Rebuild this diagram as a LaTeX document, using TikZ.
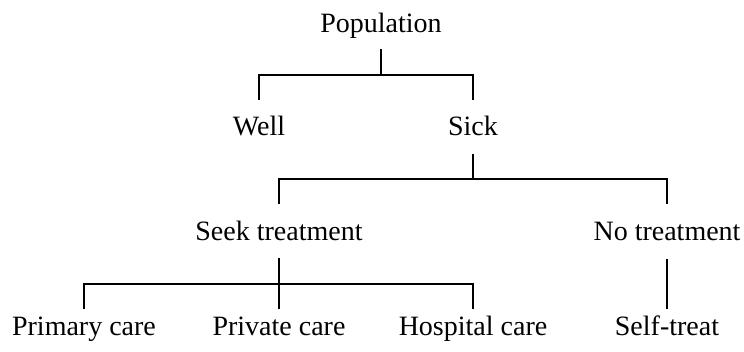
\documentclass[tikz,border=0pt]{standalone}
\usepackage{fontspec}
\setmainfont{Liberation Serif}
\begin{document}
\begin{tikzpicture}[x=1pt,y=-1pt,
  lbl/.style={anchor=base,inner sep=0pt,font=\fontsize{28}{34}\selectfont},
  conn/.style={line width=1.8pt,line cap=butt,line join=miter}]
\useasboundingbox (0,0) rectangle (744,351);
% nodes
\node[lbl] (pop)  at (381,32)  {Population};
\node[lbl] (well) at (259,135) {Well};
\node[lbl] (sick) at (473,135) {Sick};
\node[lbl] (seek) at (279,240) {Seek treatment};
\node[lbl] (notr) at (667,240) {No treatment};
\node[lbl] (prim) at (84,335)  {Primary care};
\node[lbl] (priv) at (279,335) {Private care};
\node[lbl] (hosp) at (473,335) {Hospital care};
\node[lbl] (self) at (667,335) {Self-treat};
% connectors
\draw[conn] (pop.base |- 0,49) -- (pop.base |- 0,75);
\draw[conn] (well.base |- 0,100) -- (well.base |- 0,75) -- (sick.base |- 0,75) -- (sick.base |- 0,100);
\draw[conn] (sick.base |- 0,154) -- (sick.base |- 0,179);
\draw[conn] (seek.base |- 0,204) -- (seek.base |- 0,179) -- (notr.base |- 0,179) -- (notr.base |- 0,204);
\draw[conn] (seek.base |- 0,258) -- (priv.base |- 0,309);
\draw[conn] (prim.base |- 0,309) -- (prim.base |- 0,284) -- (hosp.base |- 0,284) -- (hosp.base |- 0,309);
\draw[conn] (notr.base |- 0,259) -- (self.base |- 0,309);
\end{tikzpicture}
\end{document}
